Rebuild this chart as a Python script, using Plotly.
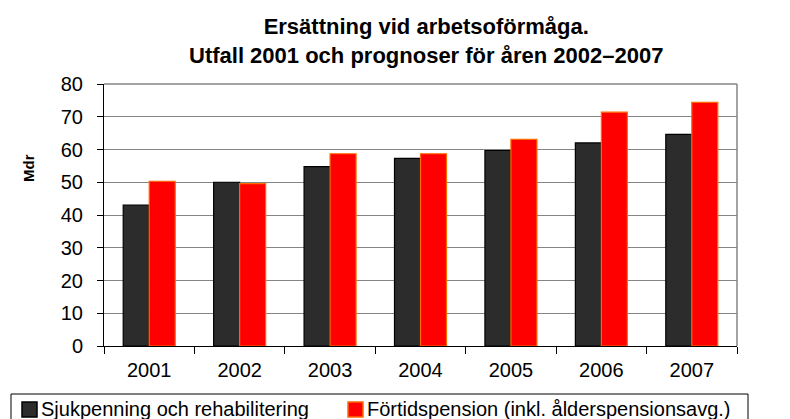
import plotly.graph_objects as go

years = ["2001", "2002", "2003", "2004", "2005", "2006", "2007"]
sjukpenning = [43.0, 50.0, 54.8, 57.3, 59.7, 62.0, 64.6]
fortidspension = [50.3, 49.6, 58.7, 58.7, 63.1, 71.4, 74.4]
series_names = ["Sjukpenning och rehabilitering", "Förtidspension (inkl. ålderspensionsavg.)"]
series_colors = ["#2c2c2c", "#ff0000"]
series_edges = ["#000000", "#ff6a00"]
y_ticks = [0, 10, 20, 30, 40, 50, 60, 70, 80]
title_lines = ["Ersättning vid arbetsoförmåga.", "Utfall 2001 och prognoser för åren 2002–2007"]
y_title = "Mdr"

FONT = "Liberation Sans, Arial, sans-serif"
W, H = 790, 419
ML, MR, MT, MB = 96, 61, 76, 81
PW, PH = W - ML - MR, H - MT - MB


def px(xp):
    return (xp - ML) / PW


def py(yp):
    return (H - MB - yp) / PH


fig = go.Figure()
for name, vals, col, edge in zip(series_names, [sjukpenning, fortidspension], series_colors, series_edges):
    fig.add_trace(go.Bar(
        x=years, y=vals, name=name, showlegend=False,
        marker=dict(color=col, line=dict(color=edge, width=1.2)),
    ))

fig.update_layout(
    width=W, height=H,
    paper_bgcolor="white", plot_bgcolor="white",
    margin=dict(l=ML, r=MR, t=MT, b=MB, autoexpand=False),
    barmode="group", bargap=0.425, bargroupgap=0,
    font=dict(family=FONT, color="black"),
    xaxis=dict(
        showline=True, linecolor="black", linewidth=1,
        ticks="outside", ticklen=7, tickcolor="black",
        tickson="boundaries", ticklabelstandoff=6,
        tickfont=dict(size=20, family=FONT, color="black"),
        automargin=False,
    ),
    yaxis=dict(
        range=[0, 80], tickvals=y_ticks,
        showline=True, linecolor="black", linewidth=1,
        ticks="outside", ticklen=6, tickcolor="black",
        ticklabelstandoff=10,
        showgrid=True, gridcolor="#858585", gridwidth=1,
        tickfont=dict(size=20, family=FONT, color="black"),
        zeroline=False, automargin=False,
    ),
)

# y-axis title
fig.add_annotation(text="<b>" + y_title + "</b>", xref="paper", yref="paper",
                   x=px(20), y=py(160), xanchor="center", yanchor="middle",
                   textangle=-90, showarrow=False,
                   font=dict(size=15, family=FONT, color="black"))

# title (two lines)
fig.add_annotation(
    text="<b>" + "<br>".join(title_lines) + "</b>", xref="paper", yref="paper",
    x=px(418), xanchor="center", y=py(4), yanchor="top", align="center",
    showarrow=False, font=dict(size=22, family=FONT, color="black"),
)

# right and top plot-area border (gray)
fig.add_shape(type="line", xref="paper", yref="paper", x0=1, x1=1, y0=0, y1=1,
              line=dict(color="#858585", width=1.5))
fig.add_shape(type="line", xref="paper", yref="paper", x0=0, x1=1, y0=1, y1=1,
              line=dict(color="#858585", width=1.5))

# legend (box, swatches, labels)
LEG_FS = 20
fig.add_shape(type="rect", xref="paper", yref="paper",
              x0=px(3), x1=px(740), y0=py(417), y1=py(386),
              line=dict(color="black", width=1), fillcolor="white", layer="above")
sw_x = [14, 340]
for xs, name, col, edge in zip(sw_x, series_names, series_colors, series_edges):
    fig.add_shape(type="rect", xref="paper", yref="paper",
                  x0=px(xs), x1=px(xs + 15), y0=py(409), y1=py(394),
                  line=dict(color=edge, width=1.5), fillcolor=col, layer="above")
    fig.add_annotation(text=name, xref="paper", yref="paper",
                       x=px(xs + 17), xanchor="left", y=py(401), yanchor="middle",
                       showarrow=False, font=dict(size=LEG_FS, family=FONT, color="black"))

fig.write_html("out.html")
